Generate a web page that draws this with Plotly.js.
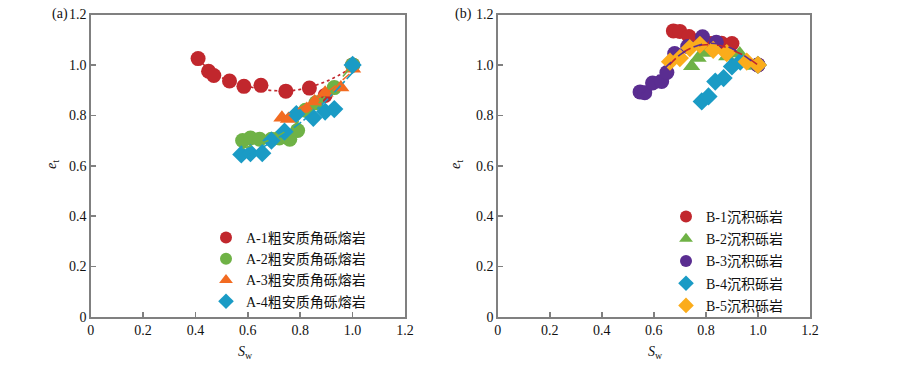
<!DOCTYPE html>
<html><head><meta charset="utf-8">
<script src="https://cdn.plot.ly/plotly-3.0.1.min.js"></script>
<style>body{margin:0;background:#fff}#c{width:900px;height:371px}</style>
</head><body><div id="c"></div>
<script>
// Panel (a)
const a1x=[0.41,0.45,0.47,0.53,0.585,0.65,0.745,0.835,0.895,1.0];
const a1y=[1.025,0.975,0.958,0.936,0.915,0.919,0.896,0.908,0.879,1.0];
const a2x=[0.58,0.61,0.645,0.69,0.72,0.76,0.79,0.82,0.86,0.93,1.0];
const a2y=[0.70,0.71,0.705,0.705,0.71,0.705,0.74,0.82,0.85,0.91,1.0];
const a3x=[0.73,0.755,0.825,0.855,0.895,0.955,1.0];
const a3y=[0.79,0.785,0.825,0.855,0.89,0.91,0.985];
const a4x=[0.575,0.61,0.655,0.69,0.74,0.785,0.85,0.895,0.93,1.0];
const a4y=[0.645,0.65,0.65,0.70,0.735,0.805,0.79,0.815,0.825,1.0];
// fitted trend lines (a)
const f1x=[0.41,0.5,0.6,0.7,0.8,0.9,1.0];
const f1y=[1.02,0.95,0.915,0.898,0.903,0.935,0.99];
const f2x=[0.58,0.7,0.8,0.9,1.0];
const f2y=[0.67,0.71,0.78,0.88,1.0];
const f3x=[0.73,0.8,0.9,1.0];
const f3y=[0.79,0.83,0.89,0.975];
const f4x=[0.6,0.7,0.8,0.9,1.0];
const f4y=[0.64,0.70,0.77,0.86,0.97];
// Panel (b)
const b1x=[0.675,0.70,0.735,0.78,0.82,0.86,0.90,1.0];
const b1y=[1.135,1.133,1.113,1.10,1.085,1.086,1.085,1.0];
const b2x=[0.745,0.77,0.80,0.88,0.93,0.99];
const b2y=[0.995,1.027,1.047,1.033,1.045,0.996];
const b3x=[0.547,0.565,0.595,0.63,0.65,0.68,0.73,0.787,0.84,1.0];
const b3y=[0.893,0.89,0.928,0.934,0.97,1.045,1.073,1.112,1.09,1.0];
const b4x=[0.784,0.81,0.836,0.868,0.90,0.932,1.0];
const b4y=[0.855,0.875,0.934,0.948,0.994,1.013,1.0];
const b5x=[0.662,0.70,0.738,0.777,0.828,0.88,0.957,1.0];
const b5y=[1.013,1.027,1.067,1.08,1.06,1.047,1.013,1.0];
const g3x=[0.55,0.6,0.65,0.7,0.75,0.8,0.85,0.9,0.95,1.0];
const g3y=[0.88,0.94,0.995,1.04,1.07,1.085,1.083,1.065,1.035,0.995];
const g5x=[0.66,0.7,0.75,0.8,0.85,0.9,0.95,1.0];
const g5y=[1.0,1.04,1.07,1.08,1.078,1.06,1.035,1.0];

const legA=['A-1粗安质角砾熔岩','A-2粗安质角砾熔岩','A-3粗安质角砾熔岩','A-4粗安质角砾熔岩'];
const legB=['B-1沉积砾岩','B-2沉积砾岩','B-3沉积砾岩','B-4沉积砾岩','B-5沉积砾岩'];

const C={red:'#c1272d',green:'#6fb246',orange:'#f26b21',blue:'#1a9bc5',purple:'#5a2d91',yellow:'#fbac1b'};

function pts(x,y,name,color,symbol,size,xa,ya,leg){
  return {x:x,y:y,name:name,legendgroup:name,type:'scatter',mode:'markers',xaxis:xa,yaxis:ya,legend:leg,
    marker:{color:color,symbol:symbol,size:size,line:{width:0}}};
}
function fit(x,y,color,dash,xa,ya){
  return {x:x,y:y,type:'scatter',mode:'lines',xaxis:xa,yaxis:ya,showlegend:false,hoverinfo:'skip',
    line:{color:color,dash:dash,width:1.6,shape:'spline'}};
}
const data=[
  fit(f1x,f1y,C.red,'dot','x','y'),
  pts(a1x,a1y,legA[0],C.red,'circle',15,'x','y','legend'),
  pts(a2x,a2y,legA[1],C.green,'circle',15,'x','y','legend'),
  pts(a3x,a3y,legA[2],C.orange,'triangle-up',15,'x','y','legend'),
  pts(a4x,a4y,legA[3],C.blue,'diamond',14,'x','y','legend'),
  fit(f2x,f2y,C.green,'dash','x','y'),
  fit(f3x,f3y,C.orange,'dash','x','y'),
  fit(f4x,f4y,C.blue,'dashdot','x','y'),
  pts(b1x,b1y,legB[0],C.red,'circle',15,'x2','y2','legend2'),
  pts(b2x,b2y,legB[1],C.green,'triangle-up',15,'x2','y2','legend2'),
  pts(b3x,b3y,legB[2],C.purple,'circle',15,'x2','y2','legend2'),
  pts(b4x,b4y,legB[3],C.blue,'diamond',14,'x2','y2','legend2'),
  pts(b5x,b5y,legB[4],C.yellow,'diamond',14,'x2','y2','legend2'),
  fit(g5x,g5y,C.red,'dash','x2','y2'),
  fit(g3x,g3y,C.purple,'dash','x2','y2')
];
const tickvals=[0,0.2,0.4,0.6,0.8,1.0,1.2];
const ticktext=['0','0.2','0.4','0.6','0.8','1.0','1.2'];
const tf={family:'Liberation Serif, Times New Roman, serif',size:14,color:'#111'};
function ax(domain,anchor){
  return {domain:domain,anchor:anchor,range:[0,1.2],tickvals:tickvals,ticktext:ticktext,
    showgrid:false,zeroline:false,showline:true,mirror:true,linecolor:'#808080',linewidth:1.5,
    ticks:'inside',ticklen:5,tickcolor:'#808080',tickwidth:1.5,tickfont:tf,fixedrange:true};
}
const yd=[1-317/371,1-14.5/371];
const lf={family:'Liberation Serif, Noto Sans CJK SC, serif',size:14,color:'#111'};
function ann(text,px,py,angle){
  return {text:text,x:px/900,y:1-py/371,xref:'paper',yref:'paper',xanchor:'center',yanchor:'middle',
    showarrow:false,textangle:angle||0,font:tf};
}
const layout={
  width:900,height:371,margin:{l:0,r:0,t:0,b:0},paper_bgcolor:'#fff',plot_bgcolor:'#fff',
  xaxis:ax([90.7/900,405/900],'y'),
  yaxis:ax(yd,'x'),
  xaxis2:ax([497.7/900,810/900],'y2'),
  yaxis2:ax(yd,'x2'),
  legend:{x:206/900,y:1-222/371,xanchor:'left',yanchor:'top',bgcolor:'rgba(0,0,0,0)',font:lf,itemsizing:'constant',itemwidth:30,tracegroupgap:0},
  legend2:{x:666/900,y:1-201/371,xanchor:'left',yanchor:'top',bgcolor:'rgba(0,0,0,0)',font:lf,itemsizing:'constant',itemwidth:30,tracegroupgap:1},
  annotations:[
    ann('(a)',60,14),
    ann('(b)',463,14),
    ann('<i>e</i><sub>t</sub>',52,165,-90),
    ann('<i>e</i><sub>t</sub>',456,165,-90),
    ann('<i>S</i><sub>w</sub>',246,352),
    ann('<i>S</i><sub>w</sub>',655,352)
  ]
};
Plotly.newPlot('c',data,layout,{staticPlot:true});
</script></body></html>
